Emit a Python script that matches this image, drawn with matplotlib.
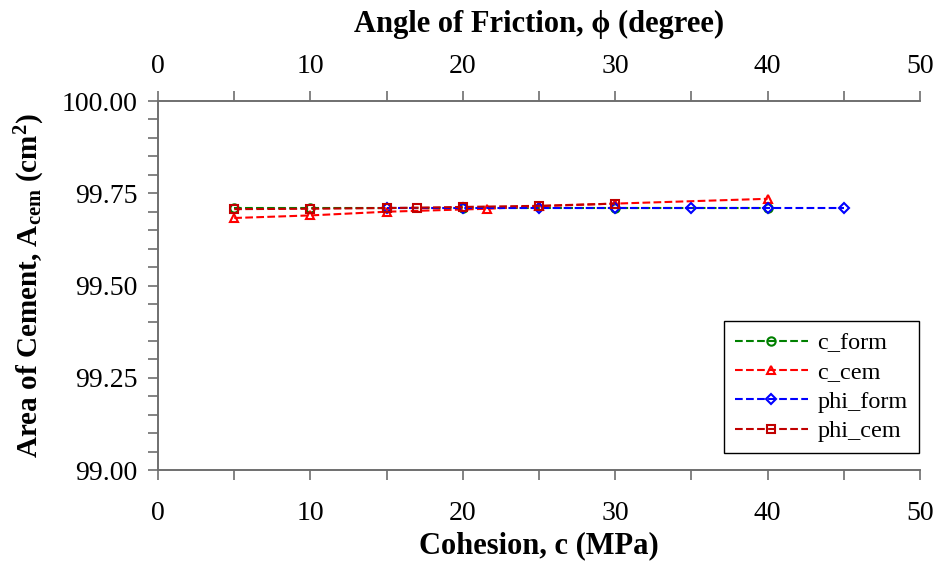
import matplotlib
matplotlib.use("Agg")
import matplotlib.pyplot as plt
import matplotlib.ticker as tick

plt.rcParams['font.family'] = ['Liberation Serif', 'DejaVu Serif']
plt.rcParams['mathtext.fontset'] = 'custom'
plt.rcParams['mathtext.rm'] = 'Liberation Serif:bold'
plt.rcParams['mathtext.it'] = 'Liberation Serif:bold'
plt.rcParams['mathtext.bf'] = 'Liberation Serif:bold'

# cohesion series (bottom axis)
c_form_x = [5, 10, 20, 30, 40]
c_form_y = [99.710, 99.710, 99.710, 99.710, 99.710]
c_cem_x = [5, 10, 15, 21.6, 25, 30, 40]
c_cem_y = [99.683, 99.690, 99.700, 99.708, 99.715, 99.722, 99.735]

# friction angle series (top axis)
phi_form_x = [15, 20, 25, 30, 35, 40, 45]
phi_form_y = [99.710, 99.710, 99.710, 99.710, 99.710, 99.710, 99.710]
phi_cem_x = [5, 10, 15, 17, 20, 25, 30]
phi_cem_y = [99.707, 99.708, 99.710, 99.711, 99.713, 99.716, 99.722]

y_ticks = [99.00, 99.25, 99.50, 99.75, 100.00]

axis_grey = '#6e6e6e'

fig = plt.figure(figsize=(9.39, 5.65), dpi=100)
ax = fig.add_axes([0.1683, 0.1681, 0.8115, 0.6531])
ax2 = ax.twiny()

# bottom axis series
l1, = ax.plot(c_form_x, c_form_y, linestyle='--', color='#008000', marker='o',
              markersize=6, markerfacecolor='none', markeredgewidth=1.5, linewidth=1.5)
l2, = ax.plot(c_cem_x, c_cem_y, linestyle='--', color='#ff0000', marker='^',
              markersize=6, markerfacecolor='none', markeredgewidth=1.5, linewidth=1.5)
# top axis series
l3, = ax2.plot(phi_form_x, phi_form_y, linestyle='--', color='#0000ff', marker='D',
               markersize=5, markerfacecolor='none', markeredgewidth=1.5, linewidth=1.5)
l4, = ax2.plot(phi_cem_x, phi_cem_y, linestyle='--', color='#c00000', marker='s',
               markersize=6, markerfacecolor='none', markeredgewidth=1.5, linewidth=1.5)

for a in (ax, ax2):
    a.set_xlim(0, 50)
    a.xaxis.set_major_locator(tick.MultipleLocator(10))
    a.xaxis.set_minor_locator(tick.MultipleLocator(5))
    a.spines['right'].set_visible(False)
    for side in ('left', 'bottom', 'top'):
        a.spines[side].set_color(axis_grey)
        a.spines[side].set_linewidth(1.2)
    a.tick_params(which='both', direction='out', length=7, width=1.2, color=axis_grey,
                  labelsize=20)

ax.tick_params(axis='x', pad=15)
ax2.tick_params(axis='x', pad=9)

ax.set_ylim(99.0, 100.0)
ax.yaxis.set_major_locator(tick.FixedLocator(y_ticks))
ax.yaxis.set_minor_locator(tick.MultipleLocator(0.05))
ax.yaxis.set_major_formatter(tick.FormatStrFormatter('%.2f'))
ax.tick_params(axis='y', which='both', right=False, pad=8)

ax.set_xlabel('Cohesion, c (MPa)', fontsize=22, fontweight='bold', labelpad=4)
ax2.set_xlabel('Angle of Friction, \u03d5 (degree)', fontsize=22, fontweight='bold', labelpad=16)
ax.set_ylabel('Area of Cement, A$_{\\mathrm{cem}}$ (cm$^{\\mathrm{2}}$)',
              fontsize=21, fontweight='bold', labelpad=10)

leg = ax.legend([l1, l2, l3, l4], ['c_form', 'c_cem', 'phi_form', 'phi_cem'],
                loc='lower right', bbox_to_anchor=(0.998, 0.046), borderaxespad=0,
                fontsize=17.5, handlelength=3.0, handletextpad=0.4, fancybox=False,
                framealpha=1, edgecolor='black', borderpad=0.45, labelspacing=0.3)
leg.get_frame().set_linewidth(1.0)

fig.savefig('out.png', dpi=100)
